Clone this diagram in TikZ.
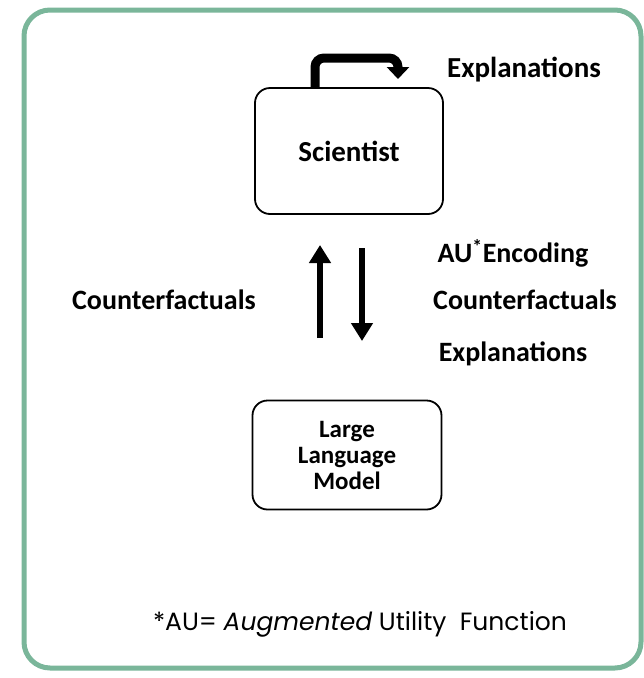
\documentclass[tikz,border=0pt]{standalone}
\usepackage{fontspec}
\setmainfont{Carlito}
\newfontfamily\notefont{Poppins}
\usetikzlibrary{arrows.meta}
\definecolor{framegreen}{RGB}{122,182,154}
\begin{document}
\begin{tikzpicture}[x=1pt, y=-1pt, line cap=butt, line join=miter,
  agent/.style={draw, line width=1.8pt, rounded corners=15pt, align=center,
    font=\fontsize{25}{26}\selectfont\bfseries},
  lbl/.style={font=\fontsize{28}{30}\selectfont\bfseries},
  flow/.style={line width=6.5pt, -{Triangle[width=21pt,length=18pt]}}]
  \useasboundingbox (0,0) rectangle (644,678);

  % cornice
  \draw[framegreen, line width=5pt, rounded corners=26pt] (24,10) rectangle (641,668);

  % nodi
  \node[agent, minimum width=188pt, minimum height=126pt,
    font=\fontsize{29}{30}\selectfont\bfseries] (sci) at (349,151) {Scientist};
  \node[agent, minimum width=189pt, minimum height=109pt] (llm) at (347,455)
    {Large\\Language\\Model};

  % freccia in alto
  \coordinate (loopend) at (398,79);
  \draw[line width=9pt, rounded corners=9pt, -{Triangle[width=22pt,length=12pt]}]
    (sci.north -| 315,0) |- (398,58) -- (loopend);
  \node[lbl, font=\fontsize{29}{30}\selectfont\bfseries] (expltop) at (524,70) {Explanations};

  % frecce verticali
  \coordinate (upfrom) at (320,338);
  \coordinate (upto) at (320,245);
  \coordinate (downfrom) at (362,248);
  \coordinate (downto) at (362,341);
  \draw[flow] (upfrom) -- (upto);
  \draw[flow] (downfrom) -- (downto);

  % etichette
  \node[lbl] (cfleft) at (164,300) {Counterfactuals};
  \node[lbl] (auenc) at (513,253) {AU\textsuperscript{*}Encoding};
  \node[lbl] (cfright) at (525,300) {Counterfactuals};
  \node[lbl] (explright) at (513,354) {Explanations};

  % nota
  \node[font=\notefont\fontsize{25}{28}\selectfont] (note) at (360,624)
    {*AU= \textit{Augmented} Utility\ \ Function};
\end{tikzpicture}
\end{document}
